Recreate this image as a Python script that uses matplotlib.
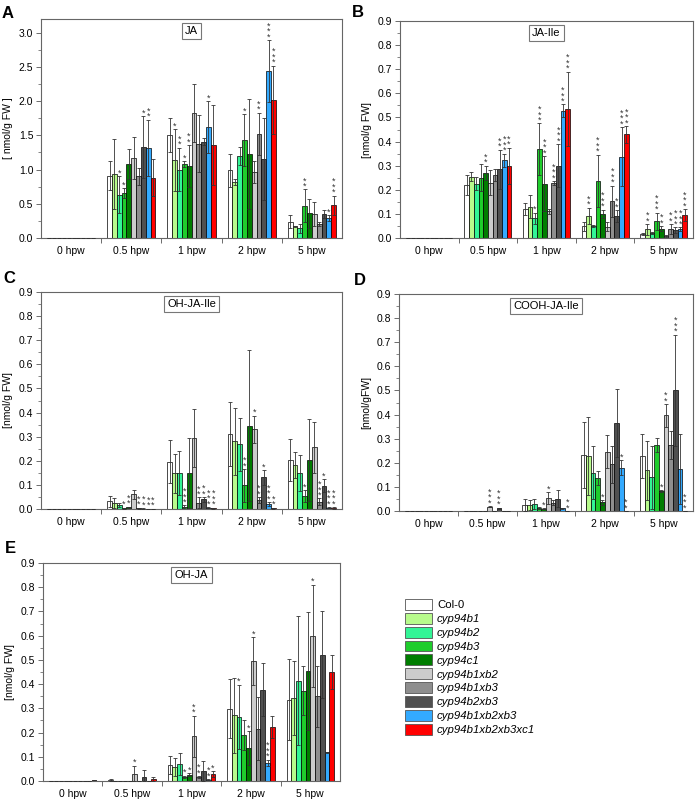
import matplotlib
matplotlib.use('Agg')
import matplotlib.pyplot as plt
import numpy as np
from matplotlib.patches import Patch
from matplotlib.ticker import MultipleLocator, FixedLocator, NullFormatter, FormatStrFormatter

plt.rcParams['font.family'] = ['Liberation Sans', 'DejaVu Sans']

genotypes = ['Col-0', 'cyp94b1', 'cyp94b2', 'cyp94b3', 'cyp94c1', 'cyp94b1xb2',
             'cyp94b1xb3', 'cyp94b2xb3', 'cyp94b1xb2xb3', 'cyp94b1xb2xb3xc1']
timepoints = ['0 hpw', '0.5 hpw', '1 hpw', '2 hpw', '5 hpw']
colors = ['#ffffff', '#b8fb8c', '#33f596', '#1fcd2c', '#007d00', '#cccccc',
          '#8e8e8e', '#505050', '#33aaff', '#ff0000']

# ---- Panel A: JA (rows = time points, columns = genotypes)
ja_mean = [[0, 0, 0, 0, 0, 0, 0, 0, 0, 0.005],
           [0.91, 0.93, 0.63, 0.655, 1.08, 1.17, 0.90, 1.33, 1.32, 0.88],
           [1.51, 1.14, 1.00, 1.08, 1.05, 1.83, 1.38, 1.41, 1.62, 1.36],
           [0.99, 0.82, 1.20, 1.43, 1.23, 0.96, 1.52, 1.15, 2.44, 2.02],
           [0.24, 0.17, 0.14, 0.47, 0.36, 0.35, 0.21, 0.35, 0.29, 0.48]]
ja_sd = [[0, 0, 0, 0, 0, 0, 0, 0, 0, 0],
         [0.21, 0.51, 0.27, 0.075, 0.22, 0.31, 0.12, 0.45, 0.41, 0.27],
         [0.25, 0.45, 0.32, 0.04, 0.31, 0.42, 0.41, 0.05, 0.38, 0.59],
         [0.24, 0.04, 0.13, 0.38, 0.80, 0.16, 0.31, 0.60, 0.45, 0.50],
         [0.10, 0.01, 0.07, 0.24, 0.21, 0.18, 0.03, 0.06, 0.04, 0.14]]
ja_sig = [['', '', '', '', '', '', '', '', '', ''],
          ['', '', '*', '*', '', '', '', '*', '**', ''],
          ['', '*', '**', '*', '**', '', '', '', '*', ''],
          ['', '', '', '*', '', '', '**', '', '***', '***'],
          ['', '', '', '**', '', '', '', '', '*', '***']]

# ---- Panel B: JA-Ile
jaile_mean = [[0, 0, 0, 0, 0, 0, 0, 0, 0, 0],
              [0.22, 0.255, 0.226, 0.25, 0.27, 0.23, 0.26, 0.285, 0.323, 0.30],
              [0.12, 0.13, 0.082, 0.369, 0.225, 0.11, 0.228, 0.30, 0.527, 0.535],
              [0.048, 0.091, 0.05, 0.237, 0.10, 0.047, 0.153, 0.091, 0.337, 0.43],
              [0.017, 0.036, 0.02, 0.07, 0.039, 0.008, 0.037, 0.032, 0.036, 0.094]]
jaile_sd = [[0, 0, 0, 0, 0, 0, 0, 0, 0, 0],
            [0.04, 0.02, 0.028, 0.055, 0.03, 0.05, 0.025, 0.082, 0.027, 0.074],
            [0.026, 0.048, 0.023, 0.106, 0.115, 0.01, 0.008, 0.09, 0.027, 0.155],
            [0.02, 0.035, 0.004, 0.108, 0.018, 0.019, 0.064, 0.025, 0.123, 0.034],
            [0.005, 0.022, 0.005, 0.035, 0.011, 0.004, 0.021, 0.012, 0.008, 0.025]]
jaile_sig = [['', '', '', '', '', '', '', '', '', ''],
             ['', '', '', '', '**', '', '', '**', '***', '**'],
             ['', '', '*', '***', '***', '', '***', '***', '***', '***'],
             ['', '**', '', '***', '***', '', '***', '**', '***', '***'],
             ['', '**', '', '***', '**', '', '**', '***', '***', '***']]

# ---- Panel C: OH-JA-Ile
ohjaile_mean = [[0, 0, 0, 0, 0, 0, 0, 0, 0, 0],
                [0.032, 0.026, 0.018, 0.003, 0.007, 0.061, 0.003, 0.002, 0.001, 0.001],
                [0.196, 0.148, 0.148, 0.01, 0.15, 0.293, 0.026, 0.04, 0.005, 0.003],
                [0.311, 0.28, 0.268, 0.098, 0.346, 0.33, 0.037, 0.131, 0.021, 0.003],
                [0.202, 0.183, 0.149, 0.054, 0.202, 0.256, 0.03, 0.097, 0.005, 0.004]]
ohjaile_sd = [[0, 0, 0, 0, 0, 0, 0, 0, 0, 0],
              [0.022, 0.021, 0.008, 0.002, 0.003, 0.019, 0.002, 0.001, 0.001, 0.001],
              [0.089, 0.082, 0.092, 0.005, 0.145, 0.12, 0.022, 0.01, 0.002, 0.002],
              [0.133, 0.14, 0.109, 0.067, 0.314, 0.057, 0.013, 0.031, 0.007, 0.002],
              [0.087, 0.055, 0.075, 0.025, 0.17, 0.106, 0.014, 0.027, 0.002, 0.003]]
ohjaile_sig = [['', '', '', '', '', '', '', '', '', ''],
               ['', '', '', '*', '**', '', '**', '**', '**', '**'],
               ['', '', '', '***', '', '', '**', '**', '***', '***'],
               ['', '', '', '**', '', '*', '**', '*', '***', '**'],
               ['', '', '', '*', '', '', '***', '*', '***', '***']]

# ---- Panel D: COOH-JA-Ile
cooh_mean = [[0, 0, 0, 0, 0, 0, 0, 0, 0, 0],
             [0.002, 0.002, 0, 0, 0, 0.018, 0, 0.012, 0, 0],
             [0.026, 0.024, 0.028, 0.011, 0.01, 0.053, 0.035, 0.051, 0.012, 0],
             [0.233, 0.228, 0.159, 0.136, 0.036, 0.246, 0.194, 0.364, 0.18, 0],
             [0.228, 0.168, 0.14, 0.273, 0.083, 0.397, 0.273, 0.50, 0.173, 0]]
cooh_sd = [[0, 0, 0, 0, 0, 0, 0, 0, 0, 0],
           [0, 0, 0, 0, 0, 0.002, 0, 0.002, 0, 0],
           [0.024, 0.021, 0.02, 0.004, 0.003, 0.026, 0.009, 0.036, 0.002, 0],
           [0.138, 0.16, 0.111, 0.03, 0.01, 0.068, 0.076, 0.141, 0.032, 0],
           [0.092, 0.122, 0.13, 0.029, 0.004, 0.047, 0.057, 0.232, 0.145, 0]]
cooh_sig = [['', '', '', '', '', '', '', '', '', ''],
            ['', '', '', '', '', '***', '', '***', '', ''],
            ['', '', '', '', '*', '*', '', '', '', '**'],
            ['', '', '', '', '*', '', '', '', '*', '**'],
            ['', '', '', '', '*', '**', '', '***', '', '***']]

# ---- Panel E: OH-JA
ohja_mean = [[0, 0, 0, 0, 0, 0, 0, 0, 0, 0.004],
             [0.004, 0, 0, 0, 0, 0.03, 0, 0.018, 0, 0.008],
             [0.066, 0.058, 0.07, 0.017, 0.025, 0.184, 0.016, 0.041, 0.005, 0.029],
             [0.299, 0.272, 0.266, 0.189, 0.135, 0.494, 0.216, 0.377, 0.074, 0.222],
             [0.336, 0.343, 0.414, 0.373, 0.454, 0.60, 0.35, 0.522, 0.118, 0.45]]
ohja_sd = [[0, 0, 0, 0, 0, 0, 0, 0, 0, 0],
           [0.006, 0, 0, 0, 0, 0.033, 0, 0.028, 0, 0.007],
           [0.037, 0.038, 0.044, 0.005, 0.006, 0.086, 0.005, 0.043, 0.002, 0.012],
           [0.121, 0.155, 0.132, 0.061, 0.07, 0.099, 0.131, 0.11, 0.014, 0.045],
           [0.168, 0.154, 0.266, 0.10, 0.242, 0.21, 0.126, 0.178, 0.003, 0.069]]
ohja_sig = [['', '', '', '', '', '', '', '', '', ''],
            ['', '', '', '', '', '*', '', '', '', ''],
            ['', '', '', '*', '*', '**', '**', '', '**', '*'],
            ['', '', '*', '', '*', '*', '', '', '***', ''],
            ['', '', '', '', '', '*', '', '', '', '']]

fig = plt.figure(figsize=(6.99, 7.99), dpi=100)
W, H = 699.0, 799.0


def px_axes(l, t, r, b):
    return fig.add_axes([l / W, 1 - b / H, (r - l) / W, (b - t) / H])


def draw(ax, means, sds, sigs, title, ylabel, ymax, major, minor):
    n = len(genotypes)
    w = 0.08
    pos = np.arange(len(timepoints))
    for i in range(n):
        x = pos + (i - (n - 1) / 2) * w
        m = np.array([row[i] for row in means], dtype=float)
        s = np.array([row[i] for row in sds], dtype=float)
        ax.bar(x, m, width=w, color=colors[i], edgecolor='black', linewidth=0.5, zorder=2)
        lower = np.minimum(s, m)
        ax.errorbar(x, m, yerr=[lower, s], fmt='none', ecolor='#333333',
                    elinewidth=0.6, capsize=1.6, capthick=0.6, zorder=3)
        for j in range(len(timepoints)):
            sig = sigs[j][i]
            if sig:
                ax.annotate('\n'.join(sig), xy=(x[j], m[j] + s[j]), xytext=(0, -1),
                            textcoords='offset points', ha='center', va='bottom',
                            fontsize=6.5, linespacing=0.5, color='#333333', zorder=4)
    ax.set_xlim(-0.5, 4.5)
    ax.set_ylim(0, ymax)
    ax.xaxis.set_major_locator(FixedLocator([0.5, 1.5, 2.5, 3.5]))
    ax.xaxis.set_major_formatter(NullFormatter())
    ax.xaxis.set_minor_locator(FixedLocator(pos))
    ax.set_xticklabels(timepoints, minor=True)
    ax.tick_params(axis='x', which='minor', length=0, pad=6, labelsize=7.5)
    ax.tick_params(axis='x', which='major', direction='out', length=3.5, width=0.6, color='#555555')
    ax.yaxis.set_major_locator(MultipleLocator(major))
    ax.yaxis.set_minor_locator(MultipleLocator(minor))
    ax.yaxis.set_major_formatter(FormatStrFormatter('%.1f'))
    ax.tick_params(axis='y', which='major', direction='out', length=3.5, width=0.6,
                   color='#555555', labelsize=7.5, pad=2)
    ax.tick_params(axis='y', which='minor', direction='out', length=2, width=0.5, color='#555555')
    for sp in ax.spines.values():
        sp.set_color('#666666')
        sp.set_linewidth(0.8)
    ax.set_ylabel(ylabel, fontsize=7.5, labelpad=4)
    ax.text(0.5, 0.945, title, transform=ax.transAxes, ha='center', va='center', fontsize=8,
            bbox=dict(boxstyle='square,pad=0.3', facecolor='white', edgecolor='#777777', linewidth=0.8),
            zorder=5)


axA = px_axes(41, 19, 342, 238)
draw(axA, ja_mean, ja_sd, ja_sig, 'JA', '[ nmol/g FW ]', 3.2, 0.5, 0.25)
axB = px_axes(400, 21, 693, 238)
draw(axB, jaile_mean, jaile_sd, jaile_sig, 'JA-Ile', '[nmol/g FW]', 0.9, 0.1, 0.05)
axC = px_axes(41, 292, 342, 509)
draw(axC, ohjaile_mean, ohjaile_sd, ohjaile_sig, 'OH-JA-Ile', '[nmol/g FW]', 0.9, 0.1, 0.05)
axD = px_axes(399, 294, 693, 511)
draw(axD, cooh_mean, cooh_sd, cooh_sig, 'COOH-JA-Ile', '[nmol/gFW]', 0.9, 0.1, 0.05)
axE = px_axes(43, 563, 340, 781)
draw(axE, ohja_mean, ohja_sd, ohja_sig, 'OH-JA', '[nmol/g FW]', 0.9, 0.1, 0.05)

for lab, (x, y) in zip('ABCDE', [(2, 6), (352, 5), (3, 271), (354, 273), (5, 541)]):
    fig.text(x / W, 1 - y / H, lab, fontsize=12, fontweight='bold', ha='left', va='top')

handles = [Patch(facecolor=c, edgecolor='#555555', linewidth=0.6) for c in colors]
leg = fig.legend(handles, genotypes, loc='upper left', bbox_to_anchor=(405 / W, 1 - 599 / H),
                 frameon=False, fontsize=8.2, handlelength=2.35, handleheight=1.1,
                 labelspacing=0.22, handletextpad=0.45, borderpad=0, borderaxespad=0)
for t in leg.get_texts():
    if t.get_text() != 'Col-0':
        t.set_fontstyle('italic')

fig.savefig('out.png', dpi=100)
